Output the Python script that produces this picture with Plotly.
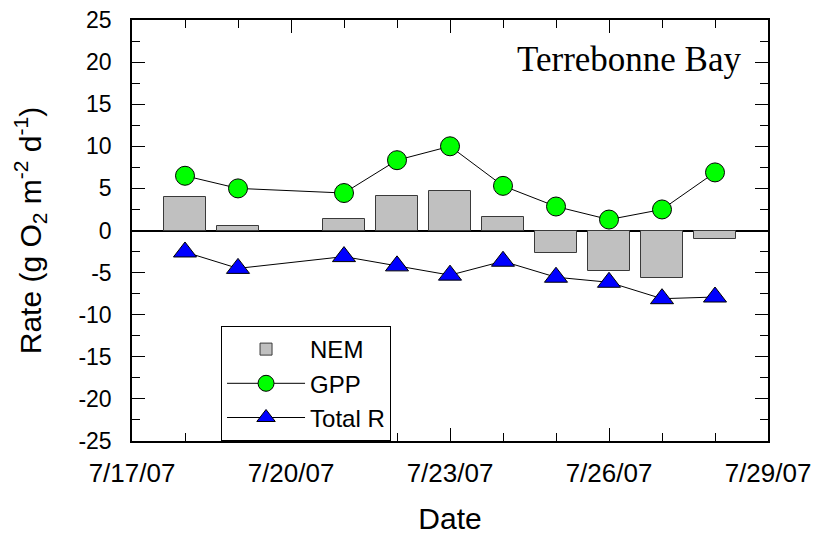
import plotly.graph_objects as go

dates = ["2007-07-18", "2007-07-19", "2007-07-21", "2007-07-22", "2007-07-23",
         "2007-07-24", "2007-07-25", "2007-07-26", "2007-07-27", "2007-07-28"]
nem = [3.95, 0.5, 1.35, 4.15, 4.75, 1.6, -2.7, -4.85, -5.6, -1.05]
gpp = [6.5, 5.0, 4.45, 8.35, 10.0, 5.3, 2.85, 1.3, 2.5, 6.9]
total_r = [-2.55, -4.5, -3.1, -4.2, -5.3, -3.65, -5.55, -6.15, -8.1, -7.9]

x_tickvals = ["2007-07-17", "2007-07-20", "2007-07-23", "2007-07-26", "2007-07-29"]
x_ticktext = ["7/17/07", "7/20/07", "7/23/07", "7/26/07", "7/29/07"]
y_tickvals = [25, 20, 15, 10, 5, 0, -5, -10, -15, -20, -25]
y_ticktext = ["25", "20", "15", "10", "5", "0", "-5", "-10", "-15", "-20", "-25"]

DAY_MS = 86400000

fig = go.Figure()
fig.add_trace(go.Bar(
    x=dates, y=nem, name="NEM", width=0.8 * DAY_MS,
    marker=dict(color="#C0C0C0", line=dict(color="#3a3a3a", width=1)),
))
fig.add_trace(go.Scatter(
    x=dates, y=gpp, name="GPP", mode="lines+markers",
    line=dict(color="black", width=1),
    marker=dict(symbol="circle", size=19, color="#00FF00",
                line=dict(color="black", width=1)),
))
fig.add_trace(go.Scatter(
    x=dates, y=total_r, name="Total R", mode="lines+markers",
    line=dict(color="black", width=1),
    marker=dict(symbol="triangle-up", size=20, color="#0000FF",
                line=dict(color="black", width=1)),
))

fig.add_annotation(
    text="Terrebonne Bay", xref="paper", yref="paper",
    x=0.96, y=0.905, xanchor="right", yanchor="middle", showarrow=False,
    font=dict(family="Liberation Serif", size=35, color="black"),
)

fig.update_layout(
    width=813, height=535,
    margin=dict(l=132, r=45, t=20, b=94),
    paper_bgcolor="white", plot_bgcolor="white",
    font=dict(family="Liberation Sans", color="black"),
    showlegend=True,
    legend=dict(
        x=0.14, y=0, xanchor="left", yanchor="bottom",
        bordercolor="black", borderwidth=1, bgcolor="white",
        font=dict(size=24, family="Liberation Sans"),
        itemwidth=78, tracegroupgap=0,
    ),
    bargap=0,
    xaxis=dict(
        type="date", range=["2007-07-17", "2007-07-29"], automargin=False,
        tickmode="array", tickvals=x_tickvals, ticktext=x_ticktext,
        ticks="inside", ticklen=13, tickwidth=1, tickcolor="black",
        tickfont=dict(size=26), ticklabelstandoff=8,
        minor=dict(dtick=DAY_MS, tick0="2007-07-17", ticks="inside",
                   ticklen=8, tickcolor="black", tickwidth=1, showgrid=False),
        showline=True, linecolor="black", linewidth=1.5, mirror="allticks",
        showgrid=False, zeroline=False,
        title=dict(text="Date", font=dict(size=30), standoff=22),
    ),
    yaxis=dict(
        range=[-25, 25], automargin=False,
        tickmode="array", tickvals=y_tickvals, ticktext=y_ticktext,
        ticks="inside", ticklen=13, tickwidth=1, tickcolor="black",
        tickfont=dict(size=23), ticklabelstandoff=14,
        minor=dict(dtick=2.5, tick0=0, ticks="inside", ticklen=8,
                   tickcolor="black", tickwidth=1, showgrid=False),
        showline=True, linecolor="black", linewidth=1.5, mirror="allticks",
        showgrid=False, zeroline=True, zerolinecolor="black", zerolinewidth=1.5,
        title=dict(text="Rate (g O<sub>2</sub> m<sup>-2</sup> d<sup>-1</sup>)",
                   font=dict(size=30), standoff=28),
    ),
)

fig.write_html("out.html",
               config={"displayModeBar": False},
               post_script="document.body.style.margin='0';document.body.style.overflow='hidden';")
